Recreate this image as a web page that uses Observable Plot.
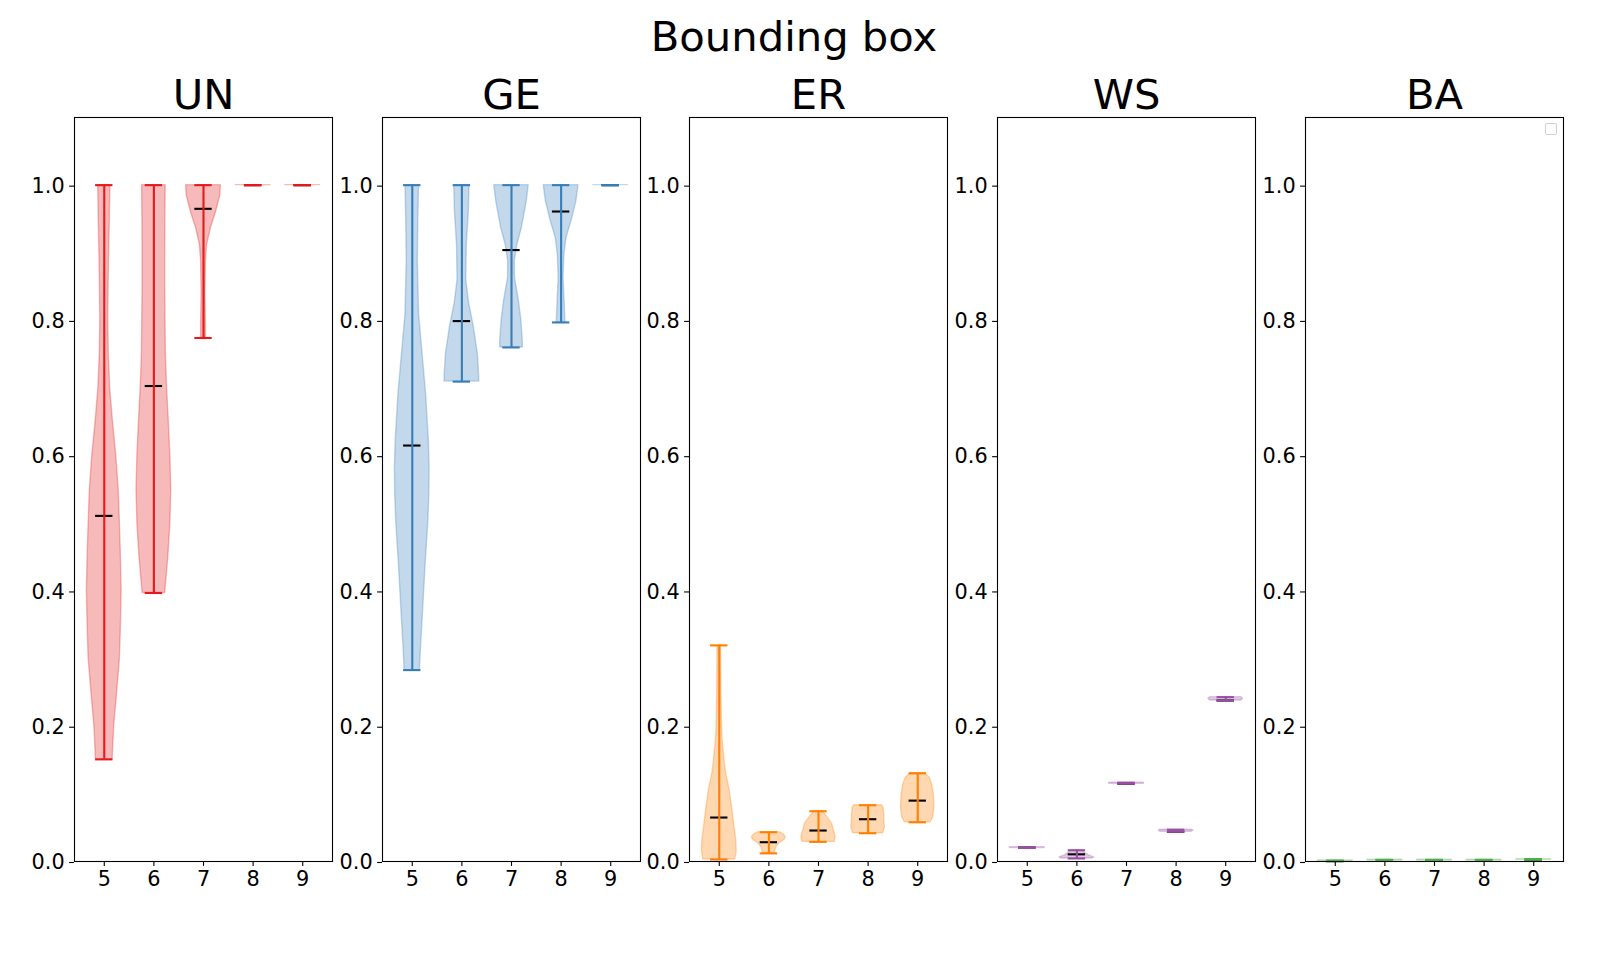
<!DOCTYPE html>
<html><head><meta charset="utf-8">
<script src="https://cdn.jsdelivr.net/npm/d3@7"></script>
<script src="https://cdn.jsdelivr.net/npm/@observablehq/plot@0.6"></script>
<style>
body{margin:0;background:#fff;}
#fig{position:relative;width:1605px;height:967px;overflow:hidden;font-family:"DejaVu Sans";background:#fff;}
#suptitle{position:absolute;left:0;width:1588px;text-align:center;top:15.7px;font-size:41.7px;line-height:1;color:#000;}
#legendbox{position:absolute;left:1545px;top:123px;width:10px;height:10px;border:1px solid #cfcfcf;border-radius:2px;background:rgba(255,255,255,0.8);}
</style></head>
<body><div id="fig"><div id="suptitle">Bounding box</div></div>
<script>
// ---- data ----
const categories = [5, 6, 7, 8, 9];
const panelNames = ["UN", "GE", "ER", "WS", "BA"];
const panelColors = ["#e41a1c", "#377eb8", "#ff7f00", "#984ea3", "#4daf4a"];
const yTicks = [0, 0.2, 0.4, 0.6, 0.8, 1.0];

// UN
const unMin = [0.151, 0.397, 0.774, 1.0, 1.0];
const unMax = [1.0, 1.0, 1.0, 1.0, 1.0];
const unMean = [0.511, 0.703, 0.965, 1.0, 1.0];
const unShape = [
  [[1.0,0.35],[0.95,0.32],[0.9,0.28],[0.85,0.25],[0.8,0.23],[0.75,0.26],[0.7,0.34],[0.65,0.5],[0.6,0.69],[0.55,0.83],[0.5,0.9],[0.45,0.96],[0.4,1.0],[0.35,0.96],[0.3,0.9],[0.25,0.74],[0.2,0.57],[0.151,0.48]],
  [[1.0,0.68],[0.95,0.66],[0.9,0.65],[0.85,0.65],[0.8,0.67],[0.75,0.69],[0.7,0.76],[0.65,0.86],[0.6,0.95],[0.55,1.0],[0.5,0.95],[0.45,0.83],[0.397,0.65]],
  [[1.0,1.0],[0.985,0.97],[0.96,0.72],[0.937,0.43],[0.912,0.21],[0.888,0.14],[0.84,0.11],[0.79,0.14],[0.774,0.14]],
  [[1.0,1.0],[1.0,1.0]],
  [[1.0,1.0],[1.0,1.0]]
];

// GE
const geMin = [0.283, 0.7095, 0.76, 0.797, 1.0];
const geMax = [1.0, 1.0, 1.0, 1.0, 1.0];
const geMean = [0.615, 0.799, 0.904, 0.961, 1.0];
const geShape = [
  [[1.0,0.39],[0.95,0.35],[0.89,0.32],[0.81,0.39],[0.74,0.63],[0.69,0.8],[0.62,0.96],[0.58,1.0],[0.54,0.98],[0.5,0.92],[0.44,0.77],[0.36,0.6],[0.31,0.49],[0.283,0.44]],
  [[1.0,0.44],[0.96,0.4],[0.91,0.28],[0.86,0.25],[0.825,0.42],[0.79,0.69],[0.75,0.92],[0.72,0.99],[0.7095,1.0]],
  [[1.0,0.99],[0.976,0.88],[0.937,0.6],[0.912,0.34],[0.888,0.19],[0.863,0.2],[0.83,0.42],[0.8,0.57],[0.77,0.65],[0.76,0.65]],
  [[1.0,1.0],[0.976,0.88],[0.947,0.6],[0.922,0.31],[0.897,0.19],[0.863,0.14],[0.83,0.2],[0.797,0.25]],
  [[1.0,1.0],[1.0,1.0]]
];

// ER
const erMin = [0.003, 0.012, 0.029, 0.0418, 0.058];
const erMax = [0.3195, 0.0433, 0.0743, 0.0832, 0.1304];
const erMean = [0.065, 0.0285, 0.0458, 0.0625, 0.090];
const erShape = [
  [[0.3195,0.1],[0.25,0.12],[0.2,0.16],[0.18,0.19],[0.134,0.37],[0.105,0.6],[0.08,0.74],[0.056,0.85],[0.031,0.98],[0.015,1.0],[0.003,0.92]],
  [[0.0433,0.6],[0.04,0.85],[0.036,0.98],[0.032,0.9],[0.027,0.62],[0.022,0.45],[0.017,0.38],[0.012,0.32]],
  [[0.0743,0.25],[0.0655,0.51],[0.0556,0.79],[0.0458,0.88],[0.036,0.99],[0.029,0.93]],
  [[0.0832,0.79],[0.0803,0.88],[0.0704,0.93],[0.0606,0.93],[0.0507,0.97],[0.0418,0.86]],
  [[0.1304,0.43],[0.124,0.69],[0.114,0.83],[0.099,0.93],[0.08,0.96],[0.065,0.89],[0.058,0.74]]
];

// WS
const wsMin = [0.020, 0.0045, 0.115, 0.044, 0.238];
const wsMax = [0.021, 0.0166, 0.1165, 0.047, 0.243];
const wsMean = [0.0205, 0.0106, 0.115, 0.044, 0.238];
const wsShape = [
  [[0.021,1.0],[0.020,1.0]],
  [[0.0166,0.3],[0.013,0.45],[0.009,0.7],[0.006,1.0],[0.0045,0.9]],
  [[0.1165,1.0],[0.115,1.0]],
  [[0.047,0.9],[0.0455,1.0],[0.044,0.9]],
  [[0.243,0.9],[0.2405,1.0],[0.238,0.9]]
];

// BA
const baMin = [0.0005, 0.0015, 0.0015, 0.0015, 0.0025];
const baMax = [0.0015, 0.0025, 0.0025, 0.0025, 0.0035];
const baMean = [0.0005, 0.0015, 0.0015, 0.0015, 0.0025];
const baShape = [
  [[0.0015,1.0],[0.0005,1.0]],
  [[0.0025,1.0],[0.0015,1.0]],
  [[0.0025,1.0],[0.0015,1.0]],
  [[0.0025,1.0],[0.0015,1.0]],
  [[0.0035,1.0],[0.0025,1.0]]
];

const panelData = [
  [unMin, unMax, unMean, unShape],
  [geMin, geMax, geMean, geShape],
  [erMin, erMax, erMean, erShape],
  [wsMin, wsMax, wsMean, wsShape],
  [baMin, baMax, baMean, baShape]
];

// ---- drawing ----
const fig = document.getElementById("fig");
const mL = 48, mR = 10, W = 258, step = 307.7, firstLeft = 74;
const half = 0.35;      // half of violin width (widths = 0.7)
const lw = 2.1;

panelNames.forEach((name, i) => {
  const [mins, maxs, means, shapes] = panelData[i];
  const color = panelColors[i];
  const rows = categories.map((c, k) => ({pos: k + 1, min: mins[k], max: maxs[k], mean: means[k]}));
  const pts = shapes.flatMap((s, k) => s.map(([y, d]) => ({pos: k + 1, y, d})));
  const chart = Plot.plot({
    width: mL + W + mR, height: 967,
    marginLeft: mL, marginRight: mR, marginTop: 117, marginBottom: 106,
    style: {background: "transparent", fontFamily: "DejaVu Sans", fontSize: "20.8px", overflow: "visible", color: "black"},
    x: {domain: [0.4, 5.6]},
    y: {domain: [0, 1.1]},
    marks: [
      Plot.areaX(pts, {y: "y", x1: d => d.pos - half * d.d, x2: d => d.pos + half * d.d, z: "pos",
        fill: color, fillOpacity: 0.3, stroke: color, strokeOpacity: 0.3, strokeWidth: 1.4, curve: "linear"}),
      Plot.ruleY(rows, {y: "mean", x1: d => d.pos - half / 2, x2: d => d.pos + half / 2, stroke: "black", strokeWidth: lw}),
      Plot.ruleY(rows, {y: "max", x1: d => d.pos - half / 2, x2: d => d.pos + half / 2, stroke: color, strokeWidth: lw}),
      Plot.ruleY(rows, {y: "min", x1: d => d.pos - half / 2, x2: d => d.pos + half / 2, stroke: color, strokeWidth: lw}),
      Plot.ruleX(rows, {x: "pos", y1: "min", y2: "max", stroke: color, strokeWidth: lw}),
      Plot.frame({stroke: "black", strokeWidth: 1.1}),
      Plot.axisY({ticks: yTicks, tickFormat: d3.format(".1f"), tickSize: 4.9, tickPadding: 4.9, fontSize: 20.8, strokeWidth: 1.1, label: null, dy: 1}),
      Plot.axisX({ticks: [1, 2, 3, 4, 5], tickFormat: p => String(categories[p - 1]), tickSize: 4.9, tickPadding: 4.9, fontSize: 20.8, strokeWidth: 1.1, label: null}),
      Plot.text([name], {frameAnchor: "top", lineAnchor: "bottom", dy: -8.7, fontSize: 41.7, fill: "black"})
    ]
  });
  chart.style.position = "absolute";
  chart.style.top = "0px";
  chart.style.left = (firstLeft + i * step - mL) + "px";
  chart.style.maxWidth = "none";
  fig.appendChild(chart);
});

const lb = document.createElement("div");
lb.id = "legendbox";
fig.appendChild(lb);
</script>
</body></html>
